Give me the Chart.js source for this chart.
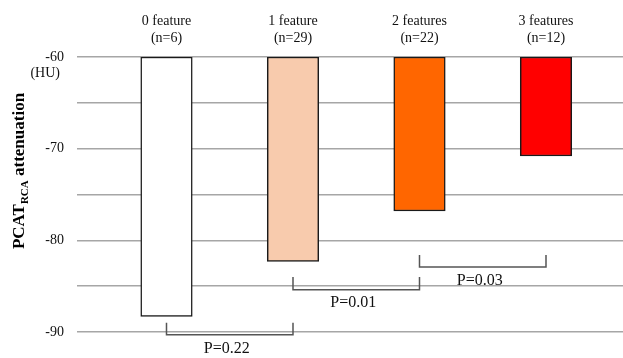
<!DOCTYPE html>
<html>
<head>
<meta charset="utf-8">
<script src="https://cdn.jsdelivr.net/npm/chart.js@4/dist/chart.umd.min.js"></script>
<style>
  html, body { margin: 0; padding: 0; background: #fff; }
  #wrap { width: 623px; height: 358px; }
</style>
</head>
<body>
<div id="wrap"><canvas id="c"></canvas></div>
<script>
// Groups by number of high-risk features
const categories = ['0 feature', '1 feature', '2 features', '3 features'];
const groupSizes = ['(n=6)', '(n=29)', '(n=22)', '(n=12)'];
// Mean PCAT attenuation of the right coronary artery (HU)
const attenuation = [-88.3, -82.3, -76.8, -70.8];
const barColors = ['#ffffff', '#f8cbad', '#ff6600', '#ff0000'];
// Value axis
const yMin = -90;
const yMax = -60;
const yStep = 5;
const yUnit = '(HU)';
// Pairwise comparisons between neighbouring groups
const comparisons = [[0, 1], [1, 2], [2, 3]];
const pValues = ['P=0.22', 'P=0.01', 'P=0.03'];

const SERIF = '"Liberation Serif", "Times New Roman", serif';

// Bars hang from the top of the axis down to each group's mean
const barData = attenuation.map((v, i) => ({ x: i, y: [yMax, v] }));

const annotations = {
  id: 'annotations',
  afterDraw(chart, args, opts) {
    const { ctx, scales: { x, y } } = chart;
    ctx.save();

    // unit label under the top tick
    ctx.fillStyle = '#111';
    ctx.font = '14px ' + SERIF;
    ctx.textAlign = 'right';
    ctx.textBaseline = 'middle';
    ctx.fillText(yUnit, opts.unitX, y.getPixelForValue(yMax) + opts.unitDy);

    // significance brackets
    comparisons.forEach((pair, k) => {
      const lv = opts.levels[k];
      const x0 = x.getPixelForValue(pair[0]);
      const x1 = x.getPixelForValue(pair[1]);
      const yTop = y.getPixelForValue(lv.top);
      const yBot = y.getPixelForValue(lv.bottom);
      ctx.strokeStyle = '#555';
      ctx.lineWidth = 1.5;
      ctx.beginPath();
      ctx.moveTo(x0, yTop);
      ctx.lineTo(x0, yBot);
      ctx.lineTo(x1, yBot);
      ctx.lineTo(x1, yTop);
      ctx.stroke();
      ctx.fillStyle = '#111';
      ctx.font = '16px ' + SERIF;
      ctx.textAlign = 'center';
      ctx.textBaseline = 'middle';
      ctx.fillText(pValues[k], (x0 + x1) / 2 - 3, y.getPixelForValue(lv.text));
    });

    // rotated axis title with subscript
    const parts = [
      { t: 'PCAT', f: 'bold 17px ' + SERIF, dy: 0 },
      { t: 'RCA', f: 'bold 11px ' + SERIF, dy: 3.5 },
      { t: ' attenuation', f: 'bold 17px ' + SERIF, dy: 0 }
    ];
    let total = 0;
    parts.forEach(p => { ctx.font = p.f; p.w = ctx.measureText(p.t).width; total += p.w; });
    ctx.translate(opts.titleX, opts.titleY);
    ctx.rotate(-Math.PI / 2);
    ctx.textAlign = 'left';
    ctx.textBaseline = 'alphabetic';
    ctx.fillStyle = '#000';
    let cx = -total / 2;
    parts.forEach(p => { ctx.font = p.f; ctx.fillText(p.t, cx, p.dy); cx += p.w; });
    ctx.restore();
  }
};

new Chart(document.getElementById('c'), {
  type: 'bar',
  data: {
    datasets: [{
      data: barData,
      backgroundColor: barColors,
      borderColor: '#1a1a1a',
      borderWidth: 1.5,
      borderSkipped: false,
      barThickness: 51.5
    }]
  },
  options: {
    responsive: true,
    maintainAspectRatio: false,
    animation: false,
    layout: { padding: { top: 0, right: 0, bottom: 26, left: 0 } },
    plugins: {
      legend: { display: false },
      tooltip: { enabled: false },
      annotations: {
        unitX: 60,
        unitDy: 16,
        titleX: 24,
        titleY: 171,
        levels: [
          { top: -89.0, bottom: -90.3, text: -91.8 },
          { top: -84.0, bottom: -85.4, text: -86.8 },
          { top: -81.6, bottom: -82.9, text: -84.4 }
        ]
      }
    },
    scales: {
      x: {
        type: 'linear',
        position: 'top',
        offset: false,
        min: -0.7075,
        max: 3.6087,
        grid: { display: false, offset: false },
        border: { display: false },
        afterBuildTicks(scale) { scale.ticks = categories.map((_, i) => ({ value: i })); },
        afterFit(scale) { scale.height = 57; },
        ticks: {
          autoSkip: false,
          maxRotation: 0,
          padding: 2,
          color: '#111',
          font: { family: SERIF, size: 14 },
          callback: (v) => [categories[v], groupSizes[v]]
        }
      },
      y: {
        min: yMin,
        max: yMax,
        afterFit(scale) { scale.width = 77; },
        grid: { color: '#a6a6a6', lineWidth: 1.5, drawTicks: false },
        border: { display: false },
        ticks: {
          stepSize: yStep,
          padding: 13,
          color: '#111',
          font: { family: SERIF, size: 14 },
          callback: (v) => (v % 10 === 0 ? String(v) : '')
        }
      }
    }
  },
  plugins: [annotations]
});
</script>
</body>
</html>
